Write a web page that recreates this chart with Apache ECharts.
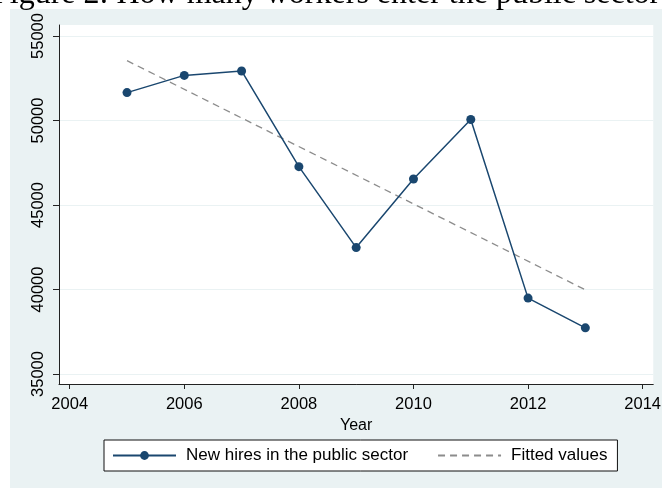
<!DOCTYPE html>
<html>
<head>
<meta charset="utf-8">
<script src="https://cdn.jsdelivr.net/npm/echarts@6/dist/echarts.min.js"></script>
<style>
  html, body { margin: 0; padding: 0; background: #ffffff; }
  #chart { width: 664px; height: 488px; }
</style>
</head>
<body>
<div id="chart"></div>
<script>
// New hires in the public sector, by year
const years = [2005, 2006, 2007, 2008, 2009, 2010, 2011, 2012, 2013];
const newHires = [51650, 52670, 52930, 47270, 42480, 46540, 50060, 39490, 37730];

// Linear fit, endpoints
const fitYears = [2005, 2013];
const fittedValues = [53540, 39980];

// Axis tick labels
const xTicks = [2004, 2006, 2008, 2010, 2012, 2014];
const yTicks = [35000, 40000, 45000, 50000, 55000];

const FONT = 'Liberation Sans, Arial, Helvetica, sans-serif';
const INK = '#000000';
const PANEL = '#eaf2f3';
const plain = v => String(Math.round(v));

const chart = echarts.init(document.getElementById('chart'), null, { renderer: 'canvas' });

chart.setOption({
  animation: false,
  backgroundColor: '#ffffff',
  textStyle: { fontFamily: FONT },
  graphic: [
    {
      type: 'rect', z: -10, silent: true,
      shape: { x: 10, y: 9, width: 652, height: 479 },
      style: { fill: PANEL }
    },
    {
      type: 'text', z: 10, silent: true,
      left: -8, top: -21,
      style: {
        text: 'Figure 2: How many workers enter the public sector',
        font: '32px "Liberation Serif", "Times New Roman", serif',
        fill: '#000000'
      }
    }
  ],
  grid: {
    left: 59, top: 25, right: 5, bottom: 104,
    show: true, backgroundColor: '#ffffff', borderWidth: 0
  },
  xAxis: {
    type: 'value',
    min: 2003.813, max: 2014.185,
    name: 'Year',
    nameLocation: 'middle',
    nameGap: 26,
    nameTextStyle: { fontSize: 16, color: INK, fontFamily: FONT },
    axisLine: { show: true, lineStyle: { color: '#222222', width: 1 } },
    axisTick: { show: true, length: 5, customValues: xTicks, lineStyle: { color: '#222222' } },
    axisLabel: { customValues: xTicks, formatter: plain, fontSize: 16.5, color: INK, margin: 12, fontFamily: FONT },
    splitLine: { show: false }
  },
  yAxis: {
    type: 'value',
    min: 34408, max: 55651,
    axisLine: { show: true, lineStyle: { color: '#222222', width: 1 } },
    axisTick: { show: true, length: 6, customValues: yTicks, lineStyle: { color: '#222222' } },
    axisLabel: { customValues: yTicks, formatter: plain, rotate: 90, fontSize: 16.5, color: INK, margin: 12, fontFamily: FONT },
    splitLine: { show: true, lineStyle: { color: PANEL, width: 1 } }
  },
  legend: {
    left: 104, top: 440,
    orient: 'horizontal',
    padding: [7, 10, 7, 8],
    backgroundColor: '#ffffff',
    borderColor: '#111111',
    borderWidth: 1,
    borderRadius: 0,
    itemGap: 29,
    itemWidth: 63,
    itemHeight: 11,
    textStyle: { fontSize: 17, color: INK, fontFamily: FONT, padding: [0, 0, 0, 5] },
    data: [
      'New hires in the public sector',
      { name: 'Fitted values', itemStyle: { opacity: 0 } }
    ]
  },
  series: [
    {
      name: 'New hires in the public sector',
      type: 'line',
      data: years.map((y, i) => [y, newHires[i]]),
      symbol: 'circle',
      symbolSize: 9,
      showSymbol: true,
      itemStyle: { color: '#1a476f' },
      lineStyle: { color: '#1a476f', width: 1.5 },
      z: 3
    },
    {
      name: 'Fitted values',
      type: 'line',
      data: fitYears.map((y, i) => [y, fittedValues[i]]),
      symbol: 'none',
      itemStyle: { color: '#8c8c8c' },
      lineStyle: { color: '#8c8c8c', width: 1.3, type: [7, 5] },
      z: 2
    }
  ]
});
</script>
</body>
</html>
